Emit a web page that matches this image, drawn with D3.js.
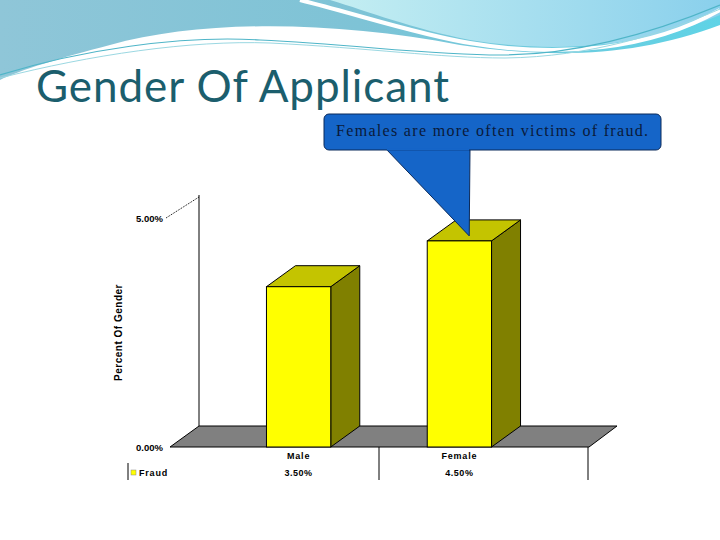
<!DOCTYPE html>
<html><head><meta charset="utf-8">
<script src="https://cdn.jsdelivr.net/npm/d3@7"></script>
<style>body{margin:0;background:#fff}</style>
</head><body>
<svg id="chart" width="720" height="540"></svg>
<script>
// data
const categories = ["Male", "Female"];
const values = [3.5, 4.5];
const valueLabels = ["3.50%", "4.50%"];
const yTicks = [0, 5];
const seriesName = "Fraud";

const svg = d3.select("#chart");

// header waves
const defs = svg.append("defs");
const g1 = defs.append("linearGradient").attr("id", "wave").attr("x1", 0).attr("x2", 1);
g1.append("stop").attr("offset", 0).attr("stop-color", "#8fc6d8");
g1.append("stop").attr("offset", 0.5).attr("stop-color", "#7ec3d6");
g1.append("stop").attr("offset", 1).attr("stop-color", "#5fd3e6");
const g2 = defs.append("linearGradient").attr("id", "wave2").attr("x1", 0).attr("x2", 1);
g2.append("stop").attr("offset", 0).attr("stop-color", "#c4eef2");
g2.append("stop").attr("offset", 1).attr("stop-color", "#8ad0ec");
svg.append("path").attr("d", "M0,0 L720,0 L720,25 C640,55 560,60 460,45 C330,20 200,20 110,45 C60,58 20,70 0,80 Z").attr("fill", "url(#wave)");
svg.append("path").attr("d", "M330,0 L720,0 L720,15 C650,45 560,55 470,40 C410,28 370,12 330,0 Z").attr("fill", "url(#wave2)");
svg.append("path").attr("d", "M300,0 C360,15 420,35 470,43 C560,58 650,50 720,10").attr("fill", "none").attr("stroke", "#fff").attr("stroke-width", 4);
svg.append("path").attr("d", "M0,75 C80,50 180,35 260,40 C360,45 430,55 500,55 C580,55 660,30 720,5").attr("fill", "none").attr("stroke", "#4fb5c8").attr("stroke-width", 1.2);
svg.append("path").attr("d", "M0,78 C90,55 190,40 270,43 C370,48 440,58 505,58 C590,57 665,33 720,9").attr("fill", "none").attr("stroke", "#9bd8e2").attr("stroke-width", 1);

svg.append("text").attr("x", 36).attr("y", 102).attr("font-family", "Lato, 'Open Sans', sans-serif")
  .attr("font-size", 44).attr("fill", "#1b5e6d").attr("textLength", 413).text("Gender Of Applicant");

// chart geometry
const dx = 29, dy = -21;
const x = d3.scaleBand().domain(categories).range([170, 588]).padding(0.6);
const y = d3.scaleLinear().domain([0, 5]).range([447, 218]);

// back wall line
svg.append("line").attr("x1", 170 + dx).attr("x2", 170 + dx).attr("y1", y(0) + dy).attr("y2", y(5) + dy - 2)
  .attr("stroke", "#000");
// floor
svg.append("path").attr("d", `M170,${y(0)} L${170 + dx},${y(0) + dy} L${617},${y(0) + dy} L${589},${y(0)} Z`)
  .attr("fill", "#808080").attr("stroke", "#000");

// y ticks
yTicks.forEach(t => {
  svg.append("text").attr("x", 163).attr("y", y(t) + 4).attr("text-anchor", "end")
    .attr("font-family", "Arial, sans-serif").attr("font-size", 9.5).attr("font-weight", "bold").text(t.toFixed(2) + "%");
  if (t > 0) svg.append("line").attr("x1", 166).attr("x2", 170 + dx).attr("y1", y(t)).attr("y2", y(t) + dy)
    .attr("stroke", "#000").attr("stroke-dasharray", "1,1");
});
svg.append("text").attr("transform", `translate(122,${(y(0) + y(5)) / 2}) rotate(-90)`).attr("text-anchor", "middle")
  .attr("font-family", "Arial, sans-serif").attr("font-size", 10).attr("font-weight", "bold").attr("letter-spacing", 0.5).text("Percent Of Gender");

// 3D bars
categories.forEach((c, i) => {
  const x0 = x(c), w = x.bandwidth(), top = y(values[i]), base = y(0);
  const g = svg.append("g").attr("stroke", "#000").attr("stroke-width", 1);
  g.append("path").attr("d", `M${x0 + w},${base} L${x0 + w + dx},${base + dy} L${x0 + w + dx},${top + dy} L${x0 + w},${top} Z`).attr("fill", "#808000");
  g.append("path").attr("d", `M${x0},${top} L${x0 + dx},${top + dy} L${x0 + w + dx},${top + dy} L${x0 + w},${top} Z`).attr("fill", "#c4c400");
  g.append("rect").attr("x", x0).attr("y", top).attr("width", w).attr("height", base - top).attr("fill", "#ffff00");
});

// data table
[[128, 463], [379, 447], [588, 447]].forEach(([lx, ly]) =>
  svg.append("line").attr("x1", lx).attr("x2", lx).attr("y1", ly).attr("y2", 480).attr("stroke", "#000"));
categories.forEach((c, i) => {
  const cx = x(c) + x.bandwidth() / 2;
  svg.append("text").attr("x", cx).attr("y", 459).attr("text-anchor", "middle").attr("font-family", "Arial, sans-serif")
    .attr("font-size", 9).attr("font-weight", "bold").attr("letter-spacing", 0.8).text(c);
  svg.append("text").attr("x", cx).attr("y", 476).attr("text-anchor", "middle").attr("font-family", "Arial, sans-serif")
    .attr("font-size", 9).attr("font-weight", "bold").attr("letter-spacing", 0.5).text(valueLabels[i]);
});
svg.append("rect").attr("x", 131).attr("y", 470).attr("width", 5).attr("height", 5).attr("fill", "#ffff00").attr("stroke", "#888").attr("stroke-width", 0.5);
svg.append("text").attr("x", 139).attr("y", 476).attr("font-family", "Arial, sans-serif").attr("font-size", 9)
  .attr("font-weight", "bold").attr("letter-spacing", 0.8).text(seriesName);

// callout
const tipX = x("Female") + 42, tipY = y(values[1]) - 5;
svg.append("path").attr("d", `M386,149 L${tipX},${tipY} L470,149 Z`).attr("fill", "#1565c8").attr("stroke", "#0b2a5a");
svg.append("rect").attr("x", 324).attr("y", 114).attr("width", 337).attr("height", 36).attr("rx", 5)
  .attr("fill", "#1565c8").attr("stroke", "#0b2a5a");
svg.append("path").attr("d", `M387,149.5 L469,149.5`).attr("stroke", "#1565c8").attr("stroke-width", 2);
svg.append("text").attr("x", 336).attr("y", 136).attr("font-family", "'Liberation Serif', serif")
  .attr("font-size", 16).attr("fill", "#0a1a3a").attr("textLength", 312).text("Females are more often victims of fraud.");
</script>
</body></html>
